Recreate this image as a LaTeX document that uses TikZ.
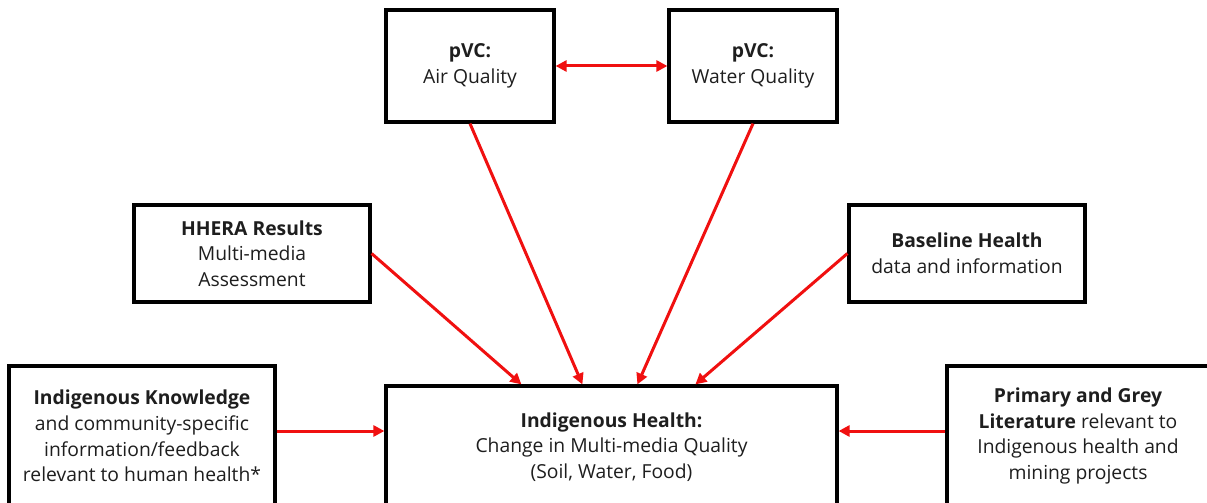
\documentclass[tikz,border=0pt]{standalone}
\usepackage{fontspec}
\setmainfont{Open Sans}
\usetikzlibrary{arrows.meta,calc}
\definecolor{linkred}{RGB}{240,16,16}
\definecolor{txt}{RGB}{30,30,30}
\tikzset{
  box/.style={draw=black, line width=3.2pt, fill=white, align=center,
    inner sep=0pt, text=txt, font=\fontsize{19.3}{25.7}\selectfont},
  link/.style={draw=linkred, line width=3pt,
    -{Triangle[length=11pt,width=11pt]}},
  biglink/.style={draw=linkred, line width=3pt,
    {Triangle[length=11pt,width=11pt]}-{Triangle[length=11pt,width=11pt]}}
}
\begin{document}
\begin{tikzpicture}[x=1pt,y=-1pt]
\useasboundingbox (0,0) rectangle (1207,503);
\clip (0,0) rectangle (1207,503);

% top pair: pathway of exposure boxes
\node[box, minimum width=168pt, minimum height=112pt] (air) at (470,66)
  {\textbf{pVC:}\\Air Quality};
\node[box, minimum width=168pt, minimum height=112pt] (water) at (753,66)
  {\textbf{pVC:}\\Water Quality};

% middle row
\node[box, minimum width=236pt, minimum height=97pt] (hhera) at (252,253.5)
  {\textbf{HHERA Results}\\Multi-media\\Assessment};
\node[box, minimum width=236pt, minimum height=97pt] (base) at (967,253.5)
  {\textbf{Baseline Health}\\data and information};

% bottom row (runs past the lower edge)
\node[box, minimum width=266pt, minimum height=140pt] (ik) at (142,436)
  {\textbf{Indigenous Knowledge}\\and community-specific\\information/feedback\\relevant to human health*};
\node[box, minimum width=451pt, minimum height=122pt] (center) at (611.5,447)
  {\textbf{Indigenous Health:}\\Change in Multi-media Quality\\(Soil, Water, Food)};
\node[box, minimum width=262pt, minimum height=140pt] (prim) at (1078,436)
  {\textbf{Primary and Grey}\\\textbf{Literature} relevant to\\Indigenous health and\\mining projects};

% connectors
\draw[biglink] (air.east) -- (water.west);
\draw[link] (air.south) -- ($(center.north west)+(198,0)$);
\draw[link] (water.south) -- ($(center.north west)+(253,0)$);
\draw[link] (hhera.east) -- ($(center.north west)+(137,0)$);
\draw[link] (base.west) -- ($(center.north west)+(311,0)$);
\draw[link] ([yshift=5pt]ik.east) -- ([yshift=5pt]ik.east -| center.west);
\draw[link] ([yshift=5pt]prim.west) -- ([yshift=5pt]prim.west -| center.east);
\end{tikzpicture}
\end{document}
